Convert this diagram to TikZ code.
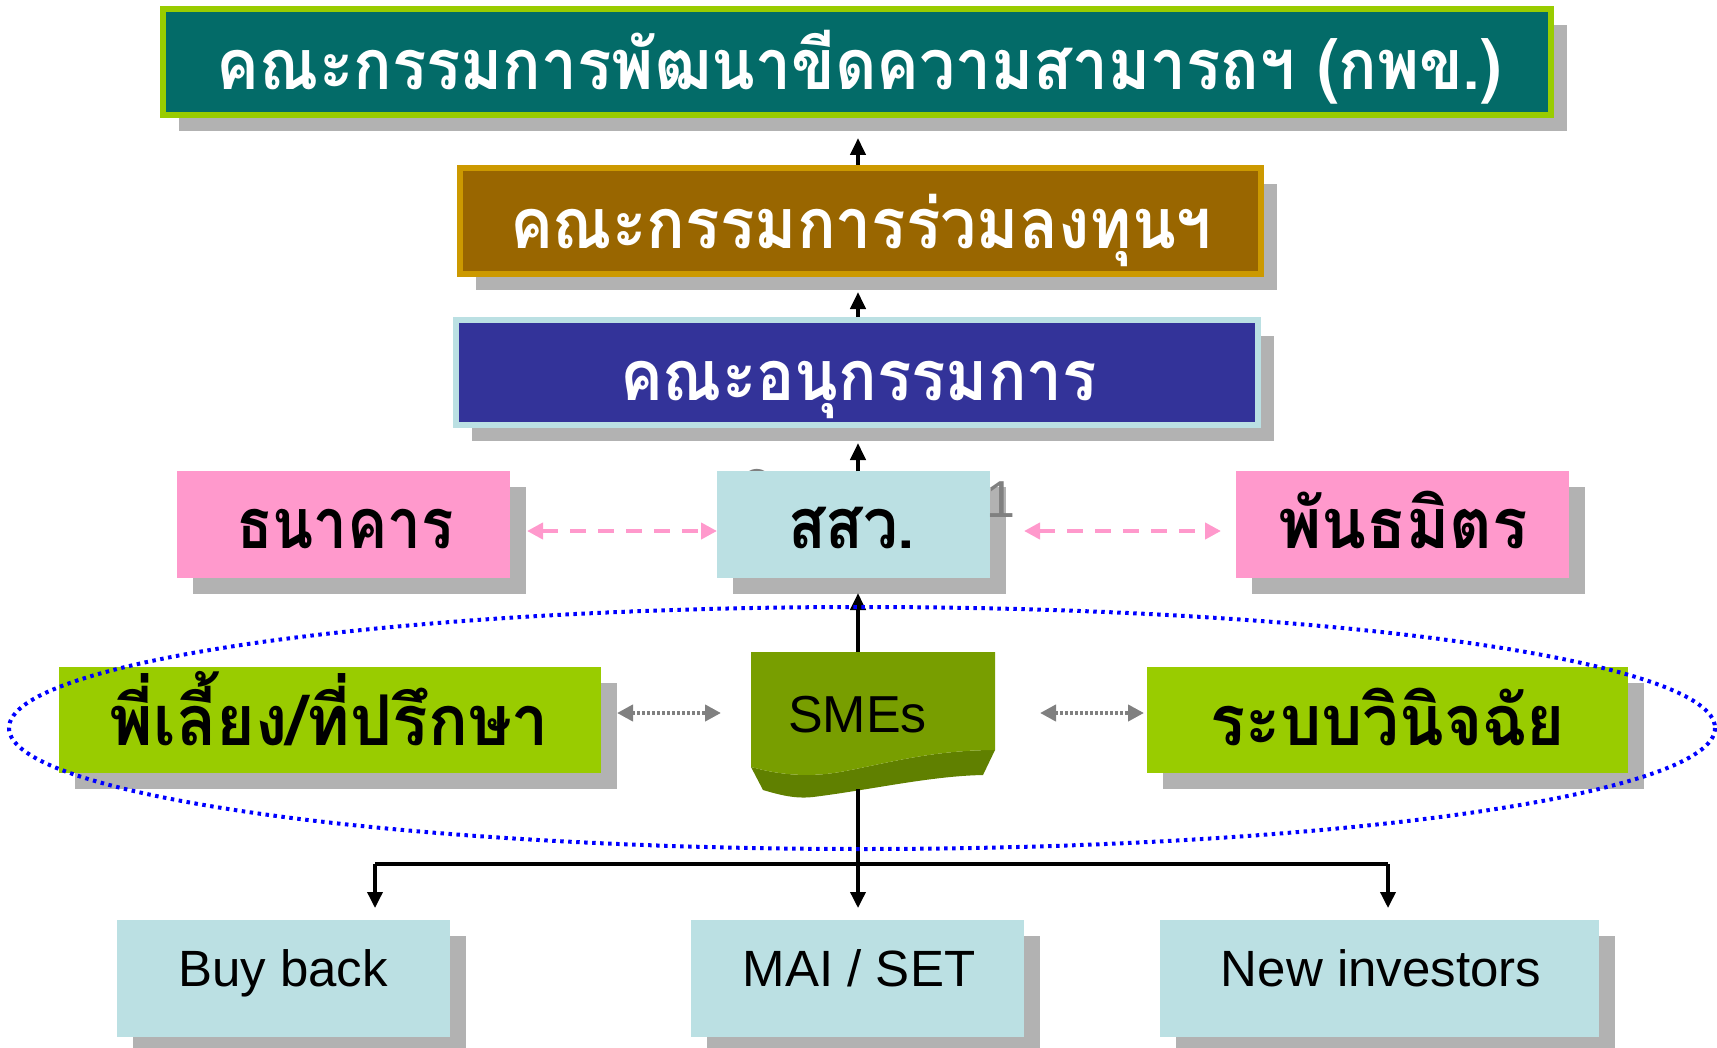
\documentclass[tikz,border=0pt]{standalone}
\usepackage{fontspec}
\setmainfont{Liberation Sans}
\newfontfamily\thai[Script=Thai]{Loma}
\usetikzlibrary{shadows,arrows.meta,calc}
\definecolor{teal1}{RGB}{3,107,104}
\definecolor{lime1}{RGB}{153,204,0}
\definecolor{brown1}{RGB}{153,102,0}
\definecolor{gold1}{RGB}{204,153,0}
\definecolor{navy1}{RGB}{51,51,153}
\definecolor{lblue}{RGB}{187,224,227}
\definecolor{pink1}{RGB}{255,153,204}
\definecolor{olive1}{RGB}{120,158,0}
\definecolor{olive2}{RGB}{96,128,0}
\definecolor{shad}{RGB}{178,178,178}
\definecolor{gray1}{RGB}{128,128,128}
\newcommand\fitw[2]{\resizebox{#1}{\height}{#2}}
\tikzset{
  sbox/.style={inner sep=0pt, outer sep=0pt,
    drop shadow={shadow xshift=8pt,shadow yshift=-8pt,opacity=1,fill=shad}},
  bbox/.style={sbox, line width=3pt, outer sep=1.5pt},
  thw/.style={anchor=base, inner sep=0pt, text=white, font=\thai\bfseries\fontsize{35}{40}\selectfont},
  thb/.style={anchor=base, inner sep=0pt, text=black, font=\thai\bfseries\fontsize{35}{40}\selectfont},
  entxt/.style={anchor=base, inner sep=0pt, text=black, font=\fontsize{25.5}{30}\selectfont},
  uparr/.style={line width=2pt, -{Triangle[width=7.5pt,length=8.5pt]}},
  downarr/.style={line width=1.75pt, -{Triangle[width=7.5pt,length=8pt]}},
  pinkarr/.style={draw=pink1, line width=2pt, dash pattern=on 8pt off 6pt,
    {Triangle[width=8pt,length=8pt]}-{Triangle[width=8pt,length=8pt]}},
  grayarr/.style={draw=gray1, line width=2pt, dash pattern=on 1.5pt off 1pt,
    {Triangle[width=8pt,length=8pt]}-{Triangle[width=8pt,length=8pt]}},
  ringline/.style={draw=blue, line width=2pt, dash pattern=on 1.75pt off 2.25pt},
}
\begin{document}
\begin{tikzpicture}[x=0.5pt,y=-0.5pt]
\useasboundingbox (0,0) rectangle (1717,1048);
% top boxes
\node[bbox, draw=lime1, fill=teal1, minimum width=694pt, minimum height=53pt] (b1) at (857,62) {};
\node[thw] (t1) at (859.5,90) {\fitw{642.5pt}{คณะกรรมการพัฒนาขีดความสามารถฯ (กพข.)}};
\node[bbox, draw=gold1, fill=brown1, minimum width=400.5pt, minimum height=53pt] (b2) at (860.5,221) {};
\node[thw] (t2) at (861,249) {\fitw{351pt}{คณะกรรมการร่วมลงทุนฯ}};
\node[bbox, draw=lblue, fill=navy1, minimum width=401pt, minimum height=52.5pt] (b3) at (857,372.5) {};
\node[thw] (t3) at (858.5,400) {\fitw{238.5pt}{คณะอนุกรรมการ}};
% ghost text behind
\node[anchor=base, inner sep=0pt, text=gray1, font=\thai\fontsize{30}{34}\selectfont] (g1) at (757,517) {บิ};
% middle row
\node[sbox, fill=pink1, minimum width=166.5pt, minimum height=53.5pt] (bank) at (343.5,524.5) {};
\node[thb] (tbank) at (345,548) {\fitw{109pt}{ธนาคาร}};
\node[sbox, fill=lblue, minimum width=136.5pt, minimum height=53.5pt] (ssw) at (853.5,524.5) {};
\node[thb] (tssw) at (851.5,548) {\fitw{63.5pt}{สสว.}};
\node[anchor=base, inner sep=0pt, text=gray1, font=\fontsize{26}{30}\selectfont] (g2) at (1001,517) {1};
\node[sbox, fill=pink1, minimum width=166.5pt, minimum height=53.5pt] (partner) at (1402.5,524.5) {};
\node[thb] (tpartner) at (1403,548) {\fitw{125pt}{พันธมิตร}};
% ring row
\node[sbox, fill=lime1, minimum width=271pt, minimum height=53pt] (mentor) at (330,720) {};
\node[thb] (tmentor) at (329.5,745) {\fitw{219.5pt}{พี่เลี้ยง/ที่ปรึกษา}};
\node[sbox, fill=lime1, minimum width=240.5pt, minimum height=53pt] (judge) at (1387.5,720) {};
\node[thb] (tjudge) at (1387.5,745) {\fitw{177.5pt}{ระบบวินิจฉัย}};
% SMEs shape
\node[inner sep=0pt, outer sep=0pt, minimum width=122pt, minimum height=59pt] (smes) at (873,711) {};
\fill[olive2] (751,767) .. controls (770,772) and (800,779) .. (840,772)
  .. controls (880,765) and (930,750) .. (995,750) -- (983,775)
  .. controls (930,776) and (870,790) .. (813,797)
  .. controls (795,799) and (780,795) .. (763,790) -- cycle;
\fill[olive1] (751,652) -- (995,652) -- (995,750)
  .. controls (930,750) and (880,765) .. (840,772)
  .. controls (800,779) and (770,772) .. (751,767) -- cycle;
\node[entxt, font=\fontsize{26}{30}\selectfont] (tsmes) at (857.5,732) {SMEs};
% bottom row
\node[sbox, fill=lblue, minimum width=166.5pt, minimum height=58.5pt] (bb) at (283.5,978.5) {};
\node[entxt] (tbb) at (283,986) {Buy back};
\node[sbox, fill=lblue, minimum width=166.5pt, minimum height=58.5pt] (mai) at (857.5,978.5) {};
\node[entxt] (tmai) at (859,986) {MAI / SET};
\node[sbox, fill=lblue, minimum width=219.5pt, minimum height=58.5pt] (ni) at (1379.5,978.5) {};
\node[entxt] (tni) at (1381,986) {New investors};
% vertical connectors
\coordinate (axis) at (858,0);
\path (b1.south -| axis) ++(0,20) coordinate (tip1);
\path (b2.south -| axis) ++(0,15) coordinate (tip2);
\path (b3.south -| axis) ++(0,15) coordinate (tip3);
\path (ssw.south -| axis) ++(0,15) coordinate (tip4);
\draw[uparr] (b2.north -| axis) -- (tip1);
\draw[uparr] (b3.north -| axis) -- (tip2);
\draw[uparr] (ssw.north -| axis) -- (tip3);
\draw[uparr] (smes.north -| axis) -- (tip4);
% side connectors
\draw[pinkarr] ([xshift=8.5pt,yshift=-3.25pt]bank.east) -- ([yshift=-3.25pt]ssw.west);
\draw[pinkarr] ([xshift=17pt,yshift=-3.25pt]ssw.east) -- ([xshift=-7.5pt,yshift=-3.25pt]partner.west);
\draw[grayarr] ([xshift=8pt,yshift=3.5pt]mentor.east) -- ([xshift=-15pt,yshift=-1pt]smes.west);
\draw[grayarr] ([xshift=22.5pt,yshift=-1pt]smes.east) -- ([xshift=-1.5pt,yshift=3.5pt]judge.west);
% bottom tree
\path (smes.south -| axis) ++(0,19) coordinate (smesb);
\coordinate (fl) at (375,864);
\coordinate (fr) at (1388,864);
\draw[line width=2pt] (fl) -- (fr);
\draw[downarr, shorten >=6pt] (smesb) -- (mai.north -| axis);
\draw[downarr, shorten >=6pt] (fl) -- (fl |- bb.north);
\draw[downarr, shorten >=6pt] (fr) -- (fr |- ni.north);
% ring
\draw[ringline] (862,728) ellipse [x radius=853, y radius=121];
\end{tikzpicture}
\end{document}
